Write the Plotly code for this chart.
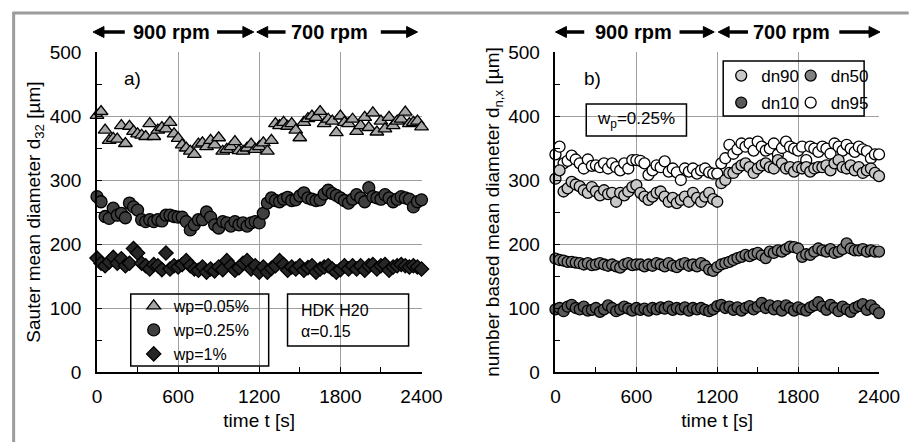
import plotly.graph_objects as go

# ---------------- data ----------------
time_s = [0, 30, 60, 90, 120, 150, 180, 210, 240, 270,
          300, 330, 360, 390, 420, 450, 480, 510, 540, 570,
          600, 630, 660, 690, 720, 750, 780, 810, 840, 870,
          900, 930, 960, 990, 1020, 1050, 1080, 1110, 1140, 1170,
          1200, 1230, 1260, 1290, 1320, 1350, 1380, 1410, 1440, 1470,
          1500, 1530, 1560, 1590, 1620, 1650, 1680, 1710, 1740, 1770,
          1800, 1830, 1860, 1890, 1920, 1950, 1980, 2010, 2040, 2070,
          2100, 2130, 2160, 2190, 2220, 2250, 2280, 2310, 2340, 2370,
          2400]

# panel a: Sauter mean diameter d32 [um]
d32_wp005 = [401, 407, 378, 362, 365, 364, 385, 357, 384, 376,
             372, 370, 368, 388, 368, 378, 382, 380, 390, 372,
             365, 355, 350, 345, 340, 356, 358, 352, 362, 355,
             366, 345, 348, 352, 360, 346, 345, 350, 356, 348,
             352, 358, 345, 362, 388, 385, 390, 384, 388, 378,
             366, 390, 396, 400, 398, 407, 388, 395, 392, 374,
             400, 390, 388, 395, 376, 385, 398, 382, 405, 375,
             392, 380, 398, 385, 392, 395, 406, 388, 390, 392,
             383]
d32_wp025 = [274, 266, 243, 240, 256, 245, 248, 241, 264, 258,
             253, 238, 235, 238, 235, 238, 236, 245, 245, 243,
             242, 242, 235, 222, 230, 238, 238, 250, 242, 230,
             225, 235, 233, 228, 235, 230, 233, 228, 233, 235,
             233, 248, 264, 272, 268, 266, 270, 273, 268, 269,
             275, 280, 272, 270, 268, 269, 278, 284, 279, 276,
             272, 268, 264, 270, 277, 272, 266, 288, 274, 272,
             270, 277, 272, 266, 270, 274, 272, 270, 258, 266,
             269]
d32_wp1 = [178, 170, 166, 172, 179, 170, 177, 166, 170, 193,
           186, 170, 166, 161, 168, 166, 160, 186, 161, 166,
           164, 168, 174, 166, 161, 159, 164, 156, 161, 158,
           164, 160, 174, 166, 159, 163, 170, 174, 161, 166,
           156, 164, 156, 162, 166, 174, 168, 159, 164, 161,
           166, 159, 163, 166, 156, 161, 164, 166, 161, 156,
           160, 166, 161, 166, 161, 166, 159, 166, 168, 161,
           166, 168, 159, 164, 166, 168, 166, 164, 166, 164,
           161]

# panel b: number based diameters dn,x [um]
dn95 = [340, 352, 326, 330, 338, 332, 326, 318, 332, 322,
        323, 320, 326, 318, 326, 320, 315, 326, 318, 331,
        331, 330, 326, 308, 315, 323, 320, 329, 313, 318,
        312, 300, 318, 313, 318, 310, 315, 318, 312, 310,
        310, 326, 334, 355, 341, 348, 357, 352, 357, 346,
        360, 352, 346, 349, 357, 340, 350, 360, 352, 349,
        346, 352, 331, 352, 349, 344, 352, 349, 341, 357,
        352, 346, 355, 349, 344, 352, 348, 345, 334, 340,
        340]
dn90 = [302, 315, 282, 287, 297, 293, 290, 284, 280, 289,
        282, 276, 284, 278, 280, 266, 280, 276, 282, 289,
        292, 280, 274, 269, 274, 280, 282, 274, 266, 272,
        264, 269, 274, 266, 280, 272, 266, 274, 280, 270,
        266, 295, 300, 311, 311, 318, 323, 326, 320, 311,
        318, 323, 326, 320, 318, 331, 326, 318, 320, 313,
        320, 318, 320, 313, 318, 320, 320, 323, 315, 326,
        331, 320, 318, 323, 315, 320, 311, 315, 318, 311,
        306]
dn50 = [177, 175, 174, 172, 172, 171, 170, 168, 170, 167,
        168, 170, 168, 166, 168, 165, 163, 168, 170, 167,
        168, 168, 165, 168, 166, 170, 168, 165, 170, 166,
        164, 168, 170, 166, 168, 165, 170, 166, 160, 158,
        164, 168, 170, 172, 175, 178, 180, 183, 181, 184,
        186, 182, 178, 188, 186, 190, 188, 192, 196, 195,
        193, 180, 184, 183, 188, 193, 190, 188, 192, 186,
        188, 192, 201, 193, 190, 190, 192, 188, 190, 188,
        188]
dn10 = [98, 100, 95, 102, 105, 100, 98, 102, 96, 97,
        100, 94, 98, 104, 100, 95, 98, 102, 99, 96,
        100, 97, 99, 96, 100, 98, 101, 99, 102, 97,
        100, 98, 101, 96, 100, 98, 100, 97, 95, 98,
        103, 105, 100, 102, 97, 101, 96, 100, 103, 98,
        102, 108, 100, 104, 98, 103, 96, 104, 100, 96,
        101, 98, 96, 101, 104, 109, 102, 97, 105, 100,
        95, 102, 98, 94, 100, 103, 106, 97, 104, 98,
        92]

x_ticks = [0, 600, 1200, 1800, 2400]
y_ticks = [0, 100, 200, 300, 400, 500]

# ---------------- layout helpers ----------------
W, H = 912, 442
L, R, T, B = 97, 27, 52, 70
PW = W - L - R
PH = H - T - B
FONT = "Liberation Sans, Arial, sans-serif"


def px(x):
    return (x - L) / PW


def py(y):
    return (H - B - y) / PH


fig = go.Figure()

OUT = dict(color="black", width=1.3)

# panel a
fig.add_trace(go.Scatter(x=time_s, y=d32_wp005, mode="markers", name="wp=0.05%",
                         marker=dict(symbol="triangle-up", size=12, color="#a6a6a6", line=OUT),
                         xaxis="x", yaxis="y", legend="legend", cliponaxis=False))
fig.add_trace(go.Scatter(x=time_s, y=d32_wp025, mode="markers", name="wp=0.25%",
                         marker=dict(symbol="circle", size=12, color="#3f3f3f", line=OUT),
                         xaxis="x", yaxis="y", legend="legend2", cliponaxis=False))
fig.add_trace(go.Scatter(x=time_s, y=d32_wp1, mode="markers", name="wp=1%",
                         marker=dict(symbol="diamond", size=11, color="#262626", line=OUT),
                         xaxis="x", yaxis="y", legend="legend3", cliponaxis=False))

# panel b
fig.add_trace(go.Scatter(x=time_s, y=dn95, mode="markers", name="dn95",
                         marker=dict(symbol="circle", size=11, color="white", line=OUT),
                         xaxis="x2", yaxis="y2", legend="legend7", cliponaxis=False))
fig.add_trace(go.Scatter(x=time_s, y=dn90, mode="markers", name="dn90",
                         marker=dict(symbol="circle", size=11, color="#c8c8c8", line=OUT),
                         xaxis="x2", yaxis="y2", legend="legend4", cliponaxis=False))
fig.add_trace(go.Scatter(x=time_s, y=dn50, mode="markers", name="dn50",
                         marker=dict(symbol="circle", size=11, color="#808080", line=OUT),
                         xaxis="x2", yaxis="y2", legend="legend5", cliponaxis=False))
fig.add_trace(go.Scatter(x=time_s, y=dn10, mode="markers", name="dn10",
                         marker=dict(symbol="circle", size=11, color="#595959", line=OUT),
                         xaxis="x2", yaxis="y2", legend="legend6", cliponaxis=False))

GRID = "#a0a0a0"


def xaxis_cfg(domain, anchor):
    return dict(domain=domain, anchor=anchor, range=[0, 2400], tickmode="array",
                tickvals=x_ticks, ticktext=[str(v) for v in x_ticks],
                showgrid=True, gridcolor=GRID, gridwidth=1, zeroline=False,
                showline=True, linecolor="black", linewidth=1.5,
                ticks="inside", ticklen=5, tickcolor="black", tickwidth=1,
                tickfont=dict(size=19, color="black", family=FONT),
                ticklabelstandoff=6,
                minor=dict(tickvals=[300, 900, 1500, 2100], ticks="inside", ticklen=5,
                           tickcolor="black", tickwidth=1, showgrid=False),
                title=dict(text="time t [s]", font=dict(size=19, color="black", family=FONT),
                           standoff=8))


def yaxis_cfg(anchor, title):
    return dict(domain=[0, 1], anchor=anchor, range=[0, 500], tickmode="array",
                tickvals=y_ticks, ticktext=[str(v) for v in y_ticks],
                showgrid=True, gridcolor=GRID, gridwidth=1, zeroline=False,
                showline=True, linecolor="black", linewidth=1.5,
                ticks="inside", ticklen=5, tickcolor="black", tickwidth=1,
                tickfont=dict(size=19, color="black", family=FONT),
                ticklabelstandoff=10,
                minor=dict(tickvals=[50, 150, 250, 350, 450], ticks="inside", ticklen=5,
                           tickcolor="black", tickwidth=1, showgrid=False),
                title=dict(text=title, font=dict(size=19, color="black", family=FONT),
                           standoff=4))


shapes = []
BOX = dict(color="black", width=1.5)
for (x0, y0, x1, y1) in [(131, 294, 270, 366), (289, 294, 411, 346),
                         (590, 104, 691, 136), (728, 61, 870, 116)]:
    shapes.append(dict(type="rect", xref="paper", yref="paper",
                       x0=px(x0), x1=px(x1), y0=py(y1), y1=py(y0),
                       line=BOX, fillcolor="rgba(0,0,0,0)", layer="above"))
# outer gray frame (top and left edges)
FRAME = dict(color="#9c9c9c", width=3)
shapes.append(dict(type="line", xref="paper", yref="paper", x0=px(12), x1=px(915),
                   y0=py(13), y1=py(13), line=FRAME))
shapes.append(dict(type="line", xref="paper", yref="paper", x0=px(13), x1=px(13),
                   y0=py(12), y1=py(445), line=FRAME))

# rpm arrows: straight shaft plus a filled triangular head
AY = 32
HEAD_L, HEAD_H = 11, 5.5
for head, tail in [(93, 125), (255, 218), (258, 287), (420, 383),
                   (559, 588), (719, 684), (723, 753), (886, 845)]:
    d = 1 if tail > head else -1
    base = head + d * HEAD_L
    shapes.append(dict(type="line", xref="paper", yref="paper",
                       x0=px(tail), x1=px(base), y0=py(AY), y1=py(AY),
                       line=dict(color="black", width=3.5)))
    path = "M {:.5f},{:.5f} L {:.5f},{:.5f} L {:.5f},{:.5f} Z".format(
        px(head), py(AY), px(base), py(AY - HEAD_H), px(base), py(AY + HEAD_H))
    shapes.append(dict(type="path", xref="paper", yref="paper", path=path,
                       fillcolor="black", line=dict(color="black", width=1)))

annotations = []
TXT = dict(size=19, color="black", family=FONT)
annotations.append(dict(text="a)", xref="paper", yref="paper", x=px(122), y=py(78),
                        xanchor="left", yanchor="middle", showarrow=False, font=TXT))
annotations.append(dict(text="b)", xref="paper", yref="paper", x=px(586), y=py(78),
                        xanchor="left", yanchor="middle", showarrow=False, font=TXT))
annotations.append(dict(text="HDK H20<br>α=0.15", xref="paper", yref="paper",
                        x=px(301), y=py(321), xanchor="left", yanchor="middle", align="left",
                        showarrow=False, font=dict(size=16, color="black", family=FONT)))
annotations.append(dict(text="w<sub>p</sub>=0.25%", xref="paper", yref="paper",
                        x=px(640), y=py(120), xanchor="center", yanchor="middle",
                        showarrow=False, font=dict(size=17, color="black", family=FONT)))

RPM = dict(size=20, color="black", family=FONT)
for cx, label in [(172, "900 rpm"), (331, "700 rpm"), (638, "900 rpm"), (797, "700 rpm")]:
    annotations.append(dict(text="<b>" + label + "</b>", xref="paper", yref="paper",
                            x=px(cx), y=py(32), xanchor="center", yanchor="middle",
                            showarrow=False, font=RPM))


def leg(xp, yp, size):
    return dict(x=px(xp), y=py(yp), xanchor="left", yanchor="middle",
                bgcolor="rgba(0,0,0,0)", borderwidth=0, orientation="v",
                font=dict(size=size, color="black", family=FONT))


fig.update_layout(
    width=W, height=H,
    margin=dict(l=L, r=R, t=T, b=B, pad=0),
    paper_bgcolor="white", plot_bgcolor="white",
    font=dict(family=FONT, color="black"),
    xaxis=xaxis_cfg([0, px(424)], "y"),
    yaxis=yaxis_cfg("x", "Sauter mean diameter d<sub>32</sub> [µm]"),
    xaxis2=xaxis_cfg([px(559), 1], "y2"),
    yaxis2=yaxis_cfg("x2", "number based mean diameter d<sub>n,x</sub> [µm]"),
    showlegend=True,
    legend=leg(134, 306, 16),
    legend2=leg(134, 330, 16),
    legend3=leg(134, 354, 16),
    legend4=leg(726, 76, 17),
    legend5=leg(796, 76, 17),
    legend6=leg(726, 103, 17),
    legend7=leg(796, 103, 17),
    shapes=shapes,
    annotations=annotations,
)

fig.write_html("out.html")
